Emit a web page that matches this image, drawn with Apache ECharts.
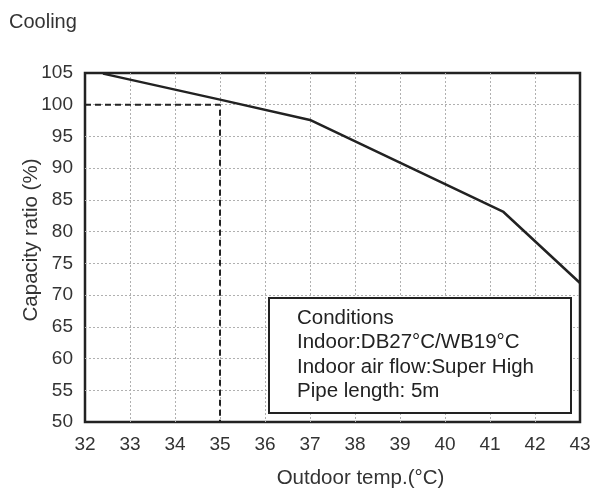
<!DOCTYPE html>
<html>
<head>
<meta charset="utf-8">
<script src="https://cdn.jsdelivr.net/npm/echarts@6/dist/echarts.min.js"></script>
<style>
  html, body { margin: 0; padding: 0; background: #fff; }
  #chart { width: 595px; height: 491px; }
</style>
</head>
<body>
<div id="chart"></div>
<script>
// Capacity ratio vs outdoor temperature (cooling)
const outdoorTemp = [32.4, 35, 37, 41.3, 43];
const capacityRatio = [104.9, 100.8, 97.6, 83.1, 71.9];

// Reference guide: 100 % at 35 °C
const guideX = [32, 35, 35];
const guideY = [100, 100, 50];

const xTicks = [32, 33, 34, 35, 36, 37, 38, 39, 40, 41, 42, 43];
const yTicks = [50, 55, 60, 65, 70, 75, 80, 85, 90, 95, 100, 105];

const conditionLines = [
  'Conditions',
  'Indoor:DB27°C/WB19°C',
  'Indoor air flow:Super High',
  'Pipe length: 5m'
];

const textColor = '#333';
const fontFamily = 'Liberation Sans, Arial, sans-serif';

const chart = echarts.init(document.getElementById('chart'));

const gridLine = {
  show: true,
  showMinLine: false,
  showMaxLine: false,
  lineStyle: { color: '#b0b0b0', type: [2, 2], width: 1 }
};

chart.setOption({
  animation: false,
  textStyle: { fontFamily: fontFamily },
  title: {
    text: 'Cooling',
    left: 4, top: 7,
    textStyle: { fontSize: 20, fontWeight: 'normal', color: textColor, fontFamily: fontFamily }
  },
  grid: {
    left: 85, right: 15, top: 73, bottom: 69,
    outerBoundsMode: 'none',
    containLabel: false,
    show: true, borderColor: '#222', borderWidth: 2.5, backgroundColor: 'transparent'
  },
  xAxis: {
    type: 'value',
    min: xTicks[0], max: xTicks[xTicks.length - 1], interval: 1,
    name: 'Outdoor temp.(°C)',
    nameLocation: 'middle', nameGap: 46,
    nameMoveOverlap: false,
    nameTextStyle: { fontSize: 20.5, color: textColor, padding: [0, 0, 0, 56] },
    axisLine: { show: false },
    axisTick: { show: false },
    axisLabel: { fontSize: 19, color: textColor, margin: 13 },
    splitLine: gridLine
  },
  yAxis: {
    type: 'value',
    min: yTicks[0], max: yTicks[yTicks.length - 1], interval: 5,
    name: 'Capacity ratio (%)',
    nameLocation: 'middle', nameGap: 43, nameRotate: 90,
    nameMoveOverlap: false,
    nameTextStyle: { fontSize: 20.5, color: textColor, padding: [0, 0, 0, 15] },
    axisLine: { show: false },
    axisTick: { show: false },
    axisLabel: { fontSize: 19, color: textColor, margin: 12 },
    splitLine: gridLine
  },
  series: [
    {
      type: 'line',
      data: guideX.map((x, i) => [x, guideY[i]]),
      symbol: 'none',
      lineStyle: { color: '#222', width: 2, type: [6, 4] },
      z: 3
    },
    {
      type: 'line',
      data: outdoorTemp.map((x, i) => [x, capacityRatio[i]]),
      symbol: 'none',
      lineStyle: { color: '#222', width: 2.5 },
      z: 4
    }
  ],
  graphic: [
    {
      type: 'rect',
      left: 270, top: 299,
      shape: { width: 302, height: 115 },
      style: { fill: 'rgba(0,0,0,0.25)' },
      z: 9
    },
    {
      type: 'rect',
      left: 268, top: 297,
      shape: { width: 302, height: 115 },
      style: { fill: '#fff', stroke: '#222', lineWidth: 2 },
      z: 10
    },
    {
      type: 'text',
      left: 297, top: 306,
      style: {
        text: conditionLines.join('\n'),
        font: '20.5px ' + fontFamily,
        fill: '#222',
        lineHeight: 24.5
      },
      z: 11
    }
  ]
});
</script>
</body>
</html>
